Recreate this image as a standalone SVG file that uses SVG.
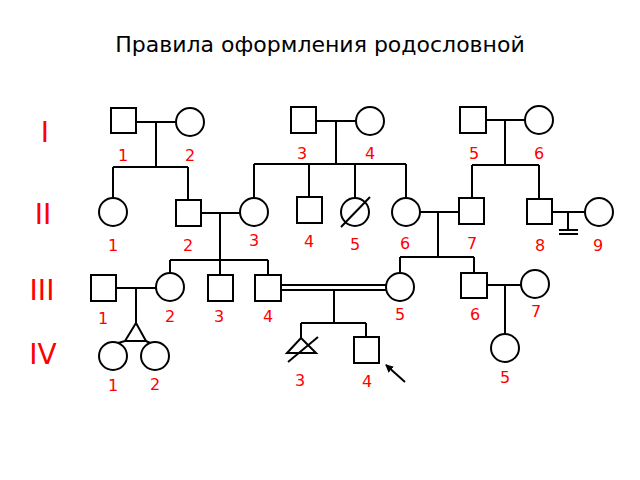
<svg xmlns="http://www.w3.org/2000/svg" width="640" height="480" viewBox="0 0 640 480">
<defs><style>
.s{fill:#fff;stroke:#000;stroke-width:2}
.l{fill:none;stroke:#000;stroke-width:2}
.n{fill:#f00;font-family:"DejaVu Sans",sans-serif;font-size:16px;text-anchor:middle}
.g{fill:#f00;font-family:"DejaVu Sans",sans-serif;font-size:28px;text-anchor:middle}
</style>
<marker id="a" markerWidth="8" markerHeight="8" refX="7" refY="4" orient="auto" markerUnits="userSpaceOnUse"><path d="M0,0 L8,4 L0,8 z" fill="#000"/></marker></defs>
<rect width="640" height="480" fill="#fff"/>
<text x="320" y="52" font-family="DejaVu Sans,sans-serif" font-size="22" text-anchor="middle">Правила оформления родословной</text>
<text class="g" x="45" y="142">I</text><text class="g" x="43" y="224">II</text><text class="g" x="42" y="300">III</text><text class="g" x="43" y="364">IV</text>
<g id="connectors">
<path class="l" d="M136,122H176M156,122V167M113,167H188M113,167V198M188,167V200"/>
<path class="l" d="M316,121H356M336,121V164M254,164H406M254,164V198M309,164V197M355,164V198M406,164V198"/>
<path class="l" d="M486,120H525M505,120V165M472,165H539M472,165V198M539,165V199"/>
<path class="l" d="M201,213H240M220,213V260M170,260H268M170,260V273M220,260V275M268,260V275"/>
<path class="l" d="M420,212H459M438,212V257M400,257H474M400,257V273M474,257V273"/>
<path class="l" d="M552,212H585M568,212V230M559,230H578M559,234H578"/>
<path class="l" d="M116,288H156M136,288V323"/>
<path class="l" d="M281,285H386M281,290H386M334,290V323M301,323H366M301,323V338M366,323V337"/>
<path class="l" d="M487,285H521M505,285V334"/>
<path class="l" d="M405,382L386,365" marker-end="url(#a)"/>
</g>
<g id="I1"><rect class="s" x="111" y="108" width="25" height="25"/><text class="n" x="123" y="161">1</text></g>
<g id="I2"><circle class="s" cx="190" cy="122" r="14"/><text class="n" x="190" y="161">2</text></g>
<g id="I3"><rect class="s" x="291" y="107" width="25" height="26"/><text class="n" x="302" y="159">3</text></g>
<g id="I4"><circle class="s" cx="370" cy="121" r="14"/><text class="n" x="370" y="159">4</text></g>
<g id="I5"><rect class="s" x="460" y="107" width="26" height="26"/><text class="n" x="474" y="159">5</text></g>
<g id="I6"><circle class="s" cx="539" cy="120" r="14"/><text class="n" x="539" y="159">6</text></g>
<g id="II1"><circle class="s" cx="113" cy="212" r="14"/><text class="n" x="113" y="251">1</text></g>
<g id="II2"><rect class="s" x="176" y="200" width="25" height="26"/><text class="n" x="188" y="251">2</text></g>
<g id="II3"><circle class="s" cx="254" cy="212" r="14"/><text class="n" x="254" y="246">3</text></g>
<g id="II4"><rect class="s" x="297" y="197" width="25" height="26"/><text class="n" x="309" y="247">4</text></g>
<g id="II5"><circle class="s" cx="355" cy="212" r="14"/><path class="l" d="M341,227L370,197"/><text class="n" x="355" y="250">5</text></g>
<g id="II6"><circle class="s" cx="406" cy="212" r="14"/><text class="n" x="405" y="249">6</text></g>
<g id="II7"><rect class="s" x="459" y="198" width="25" height="26"/><text class="n" x="472" y="249">7</text></g>
<g id="II8"><rect class="s" x="527" y="199" width="25" height="25"/><text class="n" x="540" y="251">8</text></g>
<g id="II9"><circle class="s" cx="599" cy="212" r="14"/><text class="n" x="598" y="251">9</text></g>
<g id="III1"><rect class="s" x="91" y="275" width="25" height="26"/><text class="n" x="103" y="324">1</text></g>
<g id="III2"><circle class="s" cx="170" cy="287" r="14"/><text class="n" x="170" y="322">2</text></g>
<g id="III3"><rect class="s" x="208" y="275" width="25" height="26"/><text class="n" x="219" y="322">3</text></g>
<g id="III4"><rect class="s" x="255" y="275" width="26" height="26"/><text class="n" x="268" y="322">4</text></g>
<g id="III5"><circle class="s" cx="400" cy="287" r="14"/><text class="n" x="400" y="320">5</text></g>
<g id="III6"><rect class="s" x="461" y="273" width="26" height="25"/><text class="n" x="475" y="320">6</text></g>
<g id="III7"><circle class="s" cx="535" cy="284" r="14"/><text class="n" x="536" y="317">7</text></g>
<g id="twins"><path class="l" d="M136,323L125,341H146ZM125,341L118,343M146,341L150,343"/></g>
<g id="IV1"><circle class="s" cx="113" cy="356" r="14"/><text class="n" x="113" y="391">1</text></g>
<g id="IV2"><circle class="s" cx="155" cy="356" r="14"/><text class="n" x="155" y="390">2</text></g>
<g id="IV3"><path class="s" d="M301,338L287,353H316Z"/><path class="l" d="M288,362L318,337"/><text class="n" x="300" y="386">3</text></g>
<g id="IV4"><rect class="s" x="354" y="337" width="25" height="26"/><text class="n" x="367" y="387">4</text></g>
<g id="IV5"><circle class="s" cx="505" cy="348" r="14"/><text class="n" x="505" y="383">5</text></g>
</svg>
